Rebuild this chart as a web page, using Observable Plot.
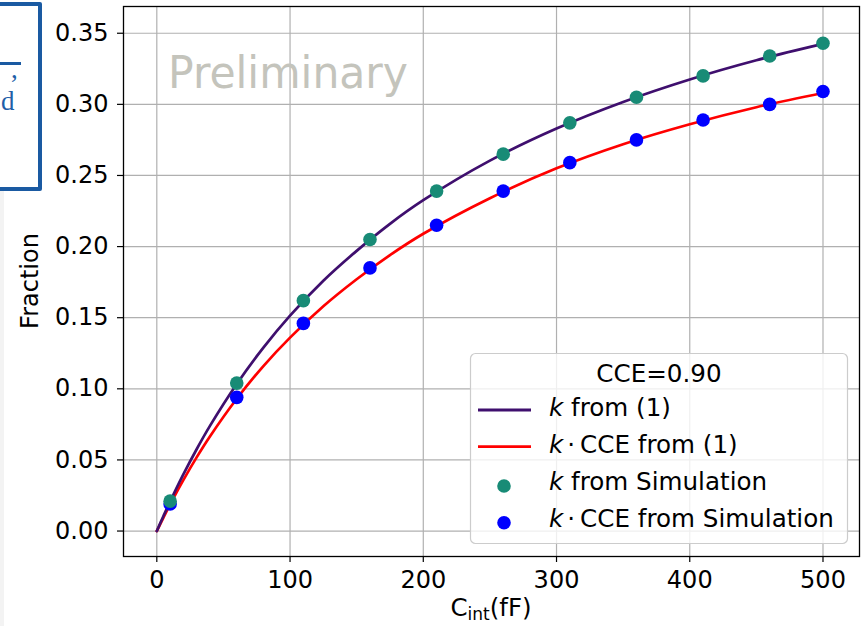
<!DOCTYPE html>
<html>
<head>
<meta charset="utf-8">
<script src="https://cdn.jsdelivr.net/npm/d3@7"></script>
<script src="https://cdn.jsdelivr.net/npm/@observablehq/plot@0.6"></script>
<style>
  html, body { margin: 0; padding: 0; background: white; }
  body { position: relative; width: 861px; height: 626px; overflow: hidden; }
  #frag { position: absolute; left: -6px; top: 2px; width: 40px; height: 181px;
          border: 4px solid #1a5aa2; border-radius: 2px; background: white; }
  #frag .ln { position: absolute; left: 0; top: 56px; width: 23px; height: 3px; background: #1a5aa2; }
  #frag .t { position: absolute; font-family: "Liberation Serif", serif; color: #1f5fa8; font-size: 27px; }
  #strip { position: absolute; left: 0; top: 190px; width: 4px; height: 436px; background: #f3f3f3; }
</style>
</head>
<body>
<script>
// ---- data ----
const xTicks = [0, 100, 200, 300, 400, 500];
const yTicks = [0, 0.05, 0.10, 0.15, 0.20, 0.25, 0.30, 0.35];

const simC    = [10, 60, 110, 160, 210, 260, 310, 360, 410, 460, 500];
const kSim    = [0.021, 0.104, 0.162, 0.205, 0.239, 0.265, 0.287, 0.305, 0.320, 0.334, 0.343];
const kcceSim = [0.019, 0.094, 0.146, 0.185, 0.215, 0.239, 0.259, 0.275, 0.289, 0.300, 0.309];

const curveC    = [0, 5, 10, 20, 30, 40, 60, 80, 100, 125, 150, 175, 200, 250, 300, 350, 400, 450, 500];
const kCurve    = [0, 0.0106, 0.0208, 0.040, 0.0577, 0.0741, 0.1034, 0.129, 0.1515, 0.176, 0.197, 0.216, 0.2326, 0.2604, 0.283, 0.3017, 0.3175, 0.331, 0.3425];
const kcceCurve = [0, 0.0095, 0.0187, 0.036, 0.052, 0.0667, 0.093, 0.116, 0.136, 0.158, 0.177, 0.194, 0.209, 0.234, 0.255, 0.272, 0.286, 0.298, 0.308];

const legendTitle = "CCE=0.90";

// ---- tables ----
const simRows = simC.map((c, i) => ({c, k: kSim[i], kcce: kcceSim[i]}));
const curveRows = curveC.map((c, i) => ({c, k: kCurve[i], kcce: kcceCurve[i]}));

const PURPLE = "#3f0f6e", RED = "#ff0000", GREEN = "#188b76", BLUE = "#0000ff";
const FONT = "DejaVu Sans";

const chart = Plot.plot({
  width: 861, height: 626,
  marginLeft: 123, marginRight: 2, marginTop: 6, marginBottom: 70,
  x: {domain: [-25, 527.4], label: null},
  y: {domain: [-0.0179, 0.3688], label: null},
  style: {fontFamily: FONT, fontSize: "24px", color: "black", background: "white"},
  marks: [
    Plot.gridX(xTicks, {stroke: "#b0b0b0", strokeOpacity: 1, strokeWidth: 1.2}),
    Plot.gridY(yTicks, {stroke: "#b0b0b0", strokeOpacity: 1, strokeWidth: 1.2}),
    Plot.line(curveRows, {x: "c", y: "kcce", stroke: RED, strokeWidth: 2.7, curve: "catmull-rom"}),
    Plot.line(curveRows, {x: "c", y: "k", stroke: PURPLE, strokeWidth: 2.7, curve: "catmull-rom"}),
    Plot.dot(simRows, {x: "c", y: "kcce", r: 6.8, fill: BLUE, stroke: "none"}),
    Plot.dot(simRows, {x: "c", y: "k", r: 6.8, fill: GREEN, stroke: "none"}),
    Plot.axisX(xTicks, {tickSize: 6, tickPadding: 8, fontSize: 24, label: null, strokeWidth: 1.2}),
    Plot.axisY(yTicks, {tickSize: 6, tickPadding: 9, fontSize: 24, label: null, strokeWidth: 1.2, tickFormat: d3.format(".2f")}),
    Plot.frame({stroke: "black", strokeWidth: 1.3})
  ]
});
document.body.appendChild(chart);

const svg = d3.select(chart);

// watermark
svg.append("text")
  .attr("x", 168).attr("y", 88)
  .attr("text-anchor", "start")
  .attr("font-family", FONT).attr("font-size", 45)
  .attr("fill", "#c4c4bc")
  .attr("textLength", 240).attr("lengthAdjust", "spacingAndGlyphs")
  .text("Preliminary");

// y label
svg.append("text")
  .attr("transform", "translate(38,281) rotate(-90)")
  .attr("text-anchor", "middle")
  .attr("font-family", FONT).attr("font-size", 24).attr("fill", "black")
  .text("Fraction");

// x label with subscript
const xl = svg.append("text")
  .attr("x", 491).attr("y", 616)
  .attr("text-anchor", "middle")
  .attr("font-family", FONT).attr("font-size", 24.5).attr("fill", "black");
xl.append("tspan").text("C");
xl.append("tspan").attr("dy", 4).attr("font-size", 17).text("int");
xl.append("tspan").attr("dy", -4).text("(fF)");

// legend
const lg = svg.append("g").attr("font-family", FONT).attr("font-size", 24.6).attr("fill", "black")
  .attr("text-anchor", "start");
lg.append("rect").attr("x", 470.5).attr("y", 353.5).attr("width", 377).attr("height", 190)
  .attr("rx", 5).attr("fill", "white").attr("fill-opacity", 0.8).attr("stroke", "#cccccc").attr("stroke-width", 1.2);
lg.append("text").attr("x", 659).attr("y", 382).attr("text-anchor", "middle").text(legendTitle);

const entries = [
  {type: "line", color: PURPLE, y: 416, cce: false, tail: " from (1)"},
  {type: "line", color: RED, y: 452.7, cce: true, tail: " from (1)"},
  {type: "dot", color: GREEN, y: 490, cce: false, tail: " from Simulation"},
  {type: "dot", color: BLUE, y: 526.7, cce: true, tail: " from Simulation"}
];
entries.forEach(e => {
  if (e.type === "line") {
    lg.append("line").attr("x1", 478).attr("x2", 531).attr("y1", e.y - 6).attr("y2", e.y - 6)
      .attr("stroke", e.color).attr("stroke-width", 2.8);
  } else {
    lg.append("circle").attr("cx", 504).attr("cy", e.y - 4).attr("r", 6.8).attr("fill", e.color);
  }
  const t = lg.append("text").attr("x", 549).attr("y", e.y).attr("text-anchor", "start");
  t.append("tspan").attr("font-style", "italic").text("k");
  if (e.cce) {
    t.append("tspan").attr("dx", 4).text("·");
    t.append("tspan").attr("dx", 5).text("CCE" + e.tail);
  } else {
    t.append("tspan").text(e.tail);
  }
});
</script>
<div id="strip"></div>
<div id="frag"><div class="ln"></div><div class="t" style="left:13px;top:48px;">,</div><div class="t" style="left:3px;top:80px;">d</div></div>
</body>
</html>
